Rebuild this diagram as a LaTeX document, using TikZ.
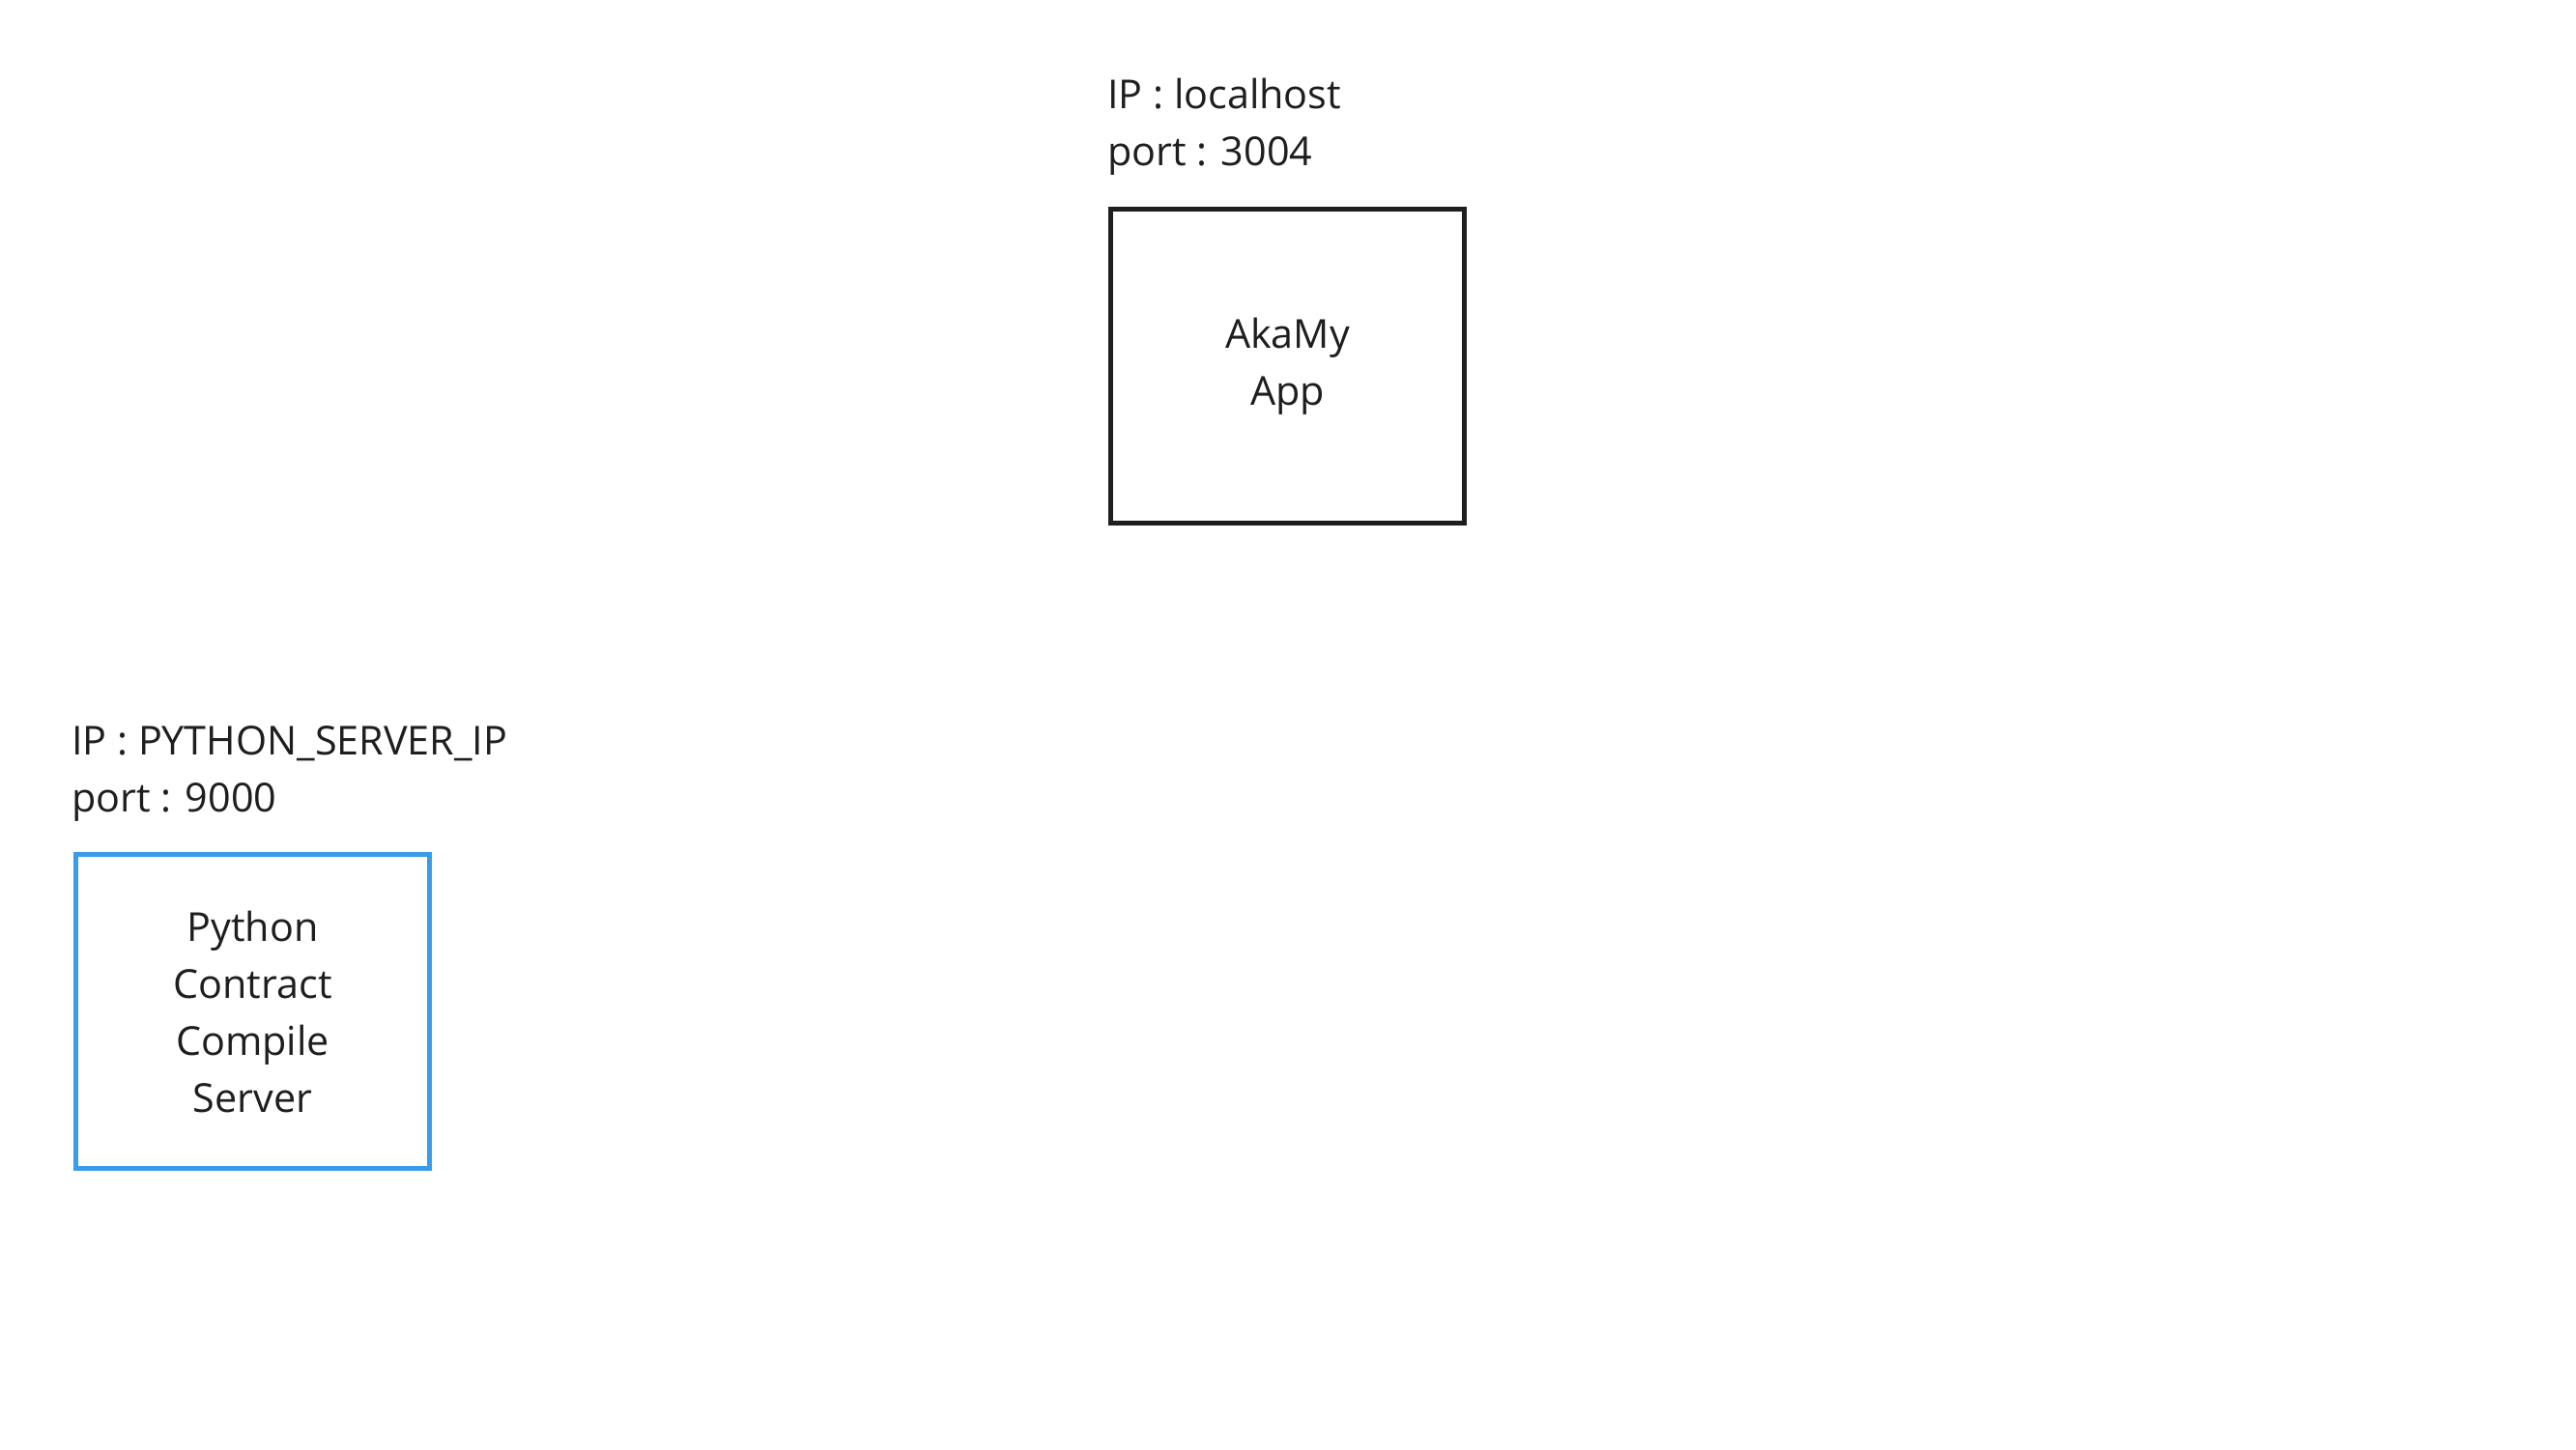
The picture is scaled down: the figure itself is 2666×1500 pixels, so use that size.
\documentclass[tikz,border=0pt]{standalone}
\usepackage{fontspec}
\setmainfont{Open Sans}
\definecolor{inkblack}{HTML}{1E1E1E}
\definecolor{boxblue}{HTML}{3A9BE8}
\begin{document}
\begin{tikzpicture}[x=1pt,y=-1pt,
  every node/.style={font=\fontsize{41.3}{59}\selectfont, text=inkblack},
  server/.style={draw, line width=5pt, minimum width=366pt, minimum height=325pt,
    inner sep=0pt, align=center, anchor=north west},
  info/.style={anchor=base west, align=left, inner sep=0pt}]
\useasboundingbox[fill=white] (0,0) rectangle (2666,1500);
\node[server, draw=inkblack] (app) at (1147,214) {AkaMy\\App};
\node[info] (appinfo) at (1146,171) {IP : localhost\\port : 3004};
\node[server, draw=boxblue] (py) at (76,882) {Python\\Contract\\Compile\\Server};
\node[info] (pyinfo) at (74,840) {IP : PYTHON\_SERVER\_IP\\port : 9000};
\end{tikzpicture}
\end{document}
